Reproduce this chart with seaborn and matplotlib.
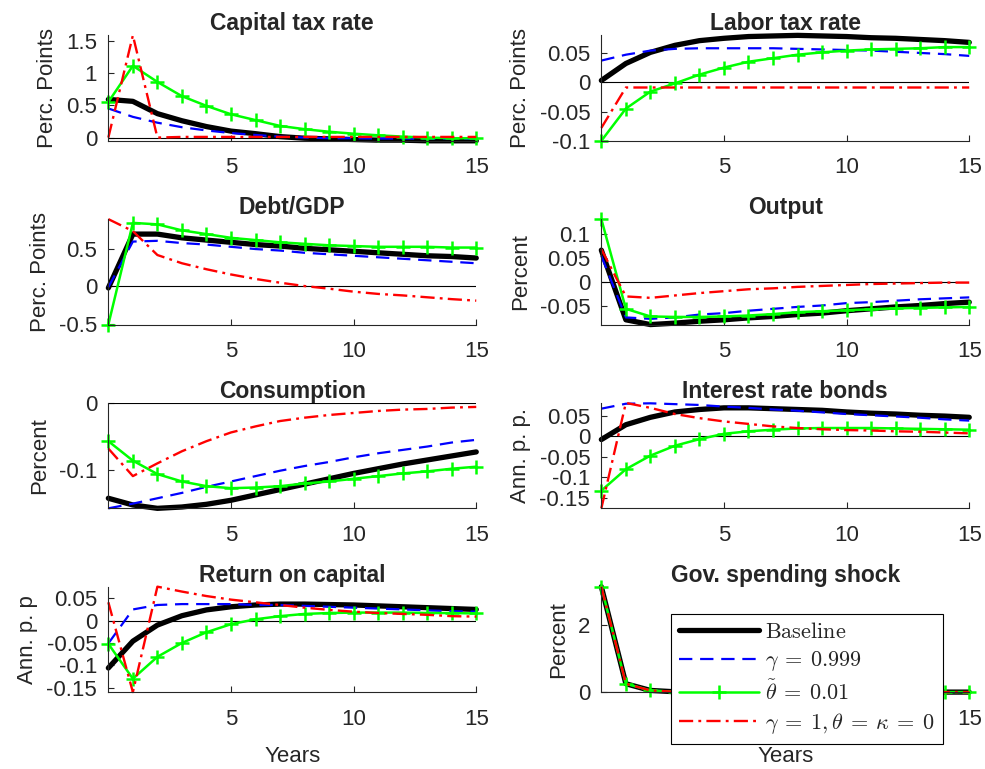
import matplotlib
matplotlib.use("Agg")
import matplotlib.pyplot as plt
import seaborn as sns
import numpy as np
from matplotlib.ticker import FormatStrFormatter

years = np.arange(16)

# series order in every panel: Baseline, gamma=0.999, theta~=0.01, gamma=1 theta=kappa=0
captax_base = [0.59, 0.56, 0.37, 0.26, 0.17, 0.10, 0.06, 0.015, -0.01, -0.02, -0.03, -0.04, -0.04, -0.05, -0.05, -0.05]
captax_g999 = [0.45, 0.32, 0.23, 0.16, 0.11, 0.07, 0.04, 0.015, 0.0, -0.01, -0.01, -0.015, -0.015, -0.02, -0.02, -0.02]
captax_theta = [0.55, 1.11, 0.86, 0.64, 0.49, 0.36, 0.27, 0.18, 0.13, 0.09, 0.06, 0.035, 0.015, 0.0, -0.01, -0.01]
captax_nofric = [0.0, 1.58, 0.0, 0.01, 0.01, 0.01, 0.01, 0.01, 0.01, 0.01, 0.01, 0.01, 0.01, 0.01, 0.01, 0.01]

labtax_base = [0.003, 0.032, 0.051, 0.063, 0.071, 0.075, 0.078, 0.079, 0.080, 0.079, 0.078, 0.076, 0.075, 0.073, 0.071, 0.068]
labtax_g999 = [0.037, 0.047, 0.054, 0.057, 0.058, 0.058, 0.058, 0.058, 0.057, 0.056, 0.055, 0.054, 0.052, 0.050, 0.048, 0.045]
labtax_theta = [-0.1, -0.045, -0.016, -0.002, 0.013, 0.025, 0.035, 0.041, 0.047, 0.051, 0.054, 0.056, 0.057, 0.058, 0.060, 0.060]
labtax_nofric = [-0.078, -0.009, -0.009, -0.009, -0.009, -0.009, -0.009, -0.009, -0.009, -0.009, -0.009, -0.009, -0.009, -0.009, -0.009, -0.009]

debt_base = [-0.02, 0.70, 0.70, 0.65, 0.62, 0.59, 0.56, 0.54, 0.51, 0.49, 0.47, 0.45, 0.43, 0.41, 0.40, 0.38]
debt_g999 = [-0.01, 0.60, 0.61, 0.58, 0.56, 0.53, 0.50, 0.48, 0.45, 0.43, 0.41, 0.39, 0.37, 0.35, 0.33, 0.31]
debt_theta = [-0.51, 0.85, 0.83, 0.75, 0.70, 0.65, 0.62, 0.59, 0.57, 0.55, 0.54, 0.53, 0.53, 0.53, 0.52, 0.52]
debt_nofric = [0.90, 0.74, 0.42, 0.31, 0.23, 0.16, 0.10, 0.05, 0.005, -0.03, -0.07, -0.10, -0.12, -0.145, -0.17, -0.19]

output_base = [0.067, -0.079, -0.089, -0.086, -0.082, -0.079, -0.075, -0.072, -0.068, -0.065, -0.060, -0.056, -0.052, -0.049, -0.045, -0.042]
output_g999 = [0.055, -0.074, -0.077, -0.074, -0.068, -0.065, -0.060, -0.056, -0.052, -0.049, -0.044, -0.042, -0.039, -0.036, -0.034, -0.032]
output_theta = [0.132, -0.056, -0.072, -0.073, -0.073, -0.072, -0.070, -0.067, -0.063, -0.061, -0.059, -0.057, -0.055, -0.054, -0.053, -0.052]
output_nofric = [0.069, -0.030, -0.033, -0.028, -0.023, -0.019, -0.015, -0.013, -0.010, -0.008, -0.006, -0.004, -0.003, -0.002, -0.001, -0.001]

cons_base = [-0.142, -0.152, -0.157, -0.155, -0.151, -0.145, -0.137, -0.129, -0.121, -0.113, -0.105, -0.098, -0.091, -0.085, -0.079, -0.073]
cons_g999 = [-0.157, -0.150, -0.142, -0.134, -0.125, -0.117, -0.109, -0.101, -0.094, -0.088, -0.081, -0.075, -0.070, -0.065, -0.059, -0.055]
cons_theta = [-0.057, -0.086, -0.106, -0.117, -0.124, -0.127, -0.126, -0.124, -0.120, -0.117, -0.113, -0.109, -0.105, -0.102, -0.098, -0.095]
cons_nofric = [-0.068, -0.109, -0.090, -0.072, -0.057, -0.044, -0.035, -0.027, -0.022, -0.018, -0.015, -0.012, -0.010, -0.009, -0.007, -0.006]

bonds_base = [-0.008, 0.028, 0.046, 0.059, 0.065, 0.069, 0.069, 0.067, 0.065, 0.063, 0.059, 0.056, 0.054, 0.051, 0.049, 0.046]
bonds_g999 = [0.067, 0.079, 0.080, 0.078, 0.076, 0.072, 0.069, 0.065, 0.062, 0.058, 0.054, 0.051, 0.048, 0.045, 0.041, 0.038]
bonds_theta = [-0.132, -0.080, -0.047, -0.023, -0.007, 0.006, 0.012, 0.016, 0.019, 0.020, 0.020, 0.020, 0.019, 0.018, 0.017, 0.016]
bonds_nofric = [-0.175, 0.081, 0.069, 0.054, 0.044, 0.036, 0.030, 0.024, 0.020, 0.017, 0.015, 0.014, 0.012, 0.011, 0.009, 0.007]

rk_base = [-0.106, -0.046, -0.010, 0.011, 0.024, 0.031, 0.035, 0.037, 0.037, 0.036, 0.035, 0.033, 0.031, 0.029, 0.027, 0.025]
rk_g999 = [-0.051, 0.025, 0.035, 0.037, 0.037, 0.037, 0.035, 0.035, 0.033, 0.031, 0.029, 0.027, 0.025, 0.023, 0.021, 0.020]
rk_theta = [-0.052, -0.130, -0.081, -0.050, -0.026, -0.008, 0.003, 0.010, 0.015, 0.017, 0.018, 0.018, 0.018, 0.017, 0.017, 0.016]
rk_nofric = [0.041, -0.160, 0.076, 0.065, 0.055, 0.047, 0.041, 0.035, 0.029, 0.024, 0.020, 0.017, 0.015, 0.013, 0.010, 0.009]

gov_shock = [3.15, 0.25, 0.05, 0.01, 0.0, 0.0, 0.0, 0.0, 0.0, 0.0, 0.0, 0.0, 0.0, 0.0, 0.0, 0.0]

titles = ["Capital tax rate", "Labor tax rate", "Debt/GDP", "Output",
          "Consumption", "Interest rate bonds", "Return on capital", "Gov. spending shock"]
ylabels = ["Perc. Points", "Perc. Points", "Perc. Points", "Percent",
           "Percent", "Ann. p. p.", "Ann. p. p", "Percent"]
yticks = [[0, 0.5, 1, 1.5], [-0.1, -0.05, 0, 0.05], [-0.5, 0, 0.5], [-0.05, 0, 0.05, 0.1],
          [-0.1, 0], [-0.15, -0.1, -0.05, 0, 0.05], [-0.15, -0.1, -0.05, 0, 0.05], [0, 2]]
xticks = [5, 10, 15]
labels = ["$\\mathrm{Baseline}$", "$\\gamma\\:=\\:0.999$", "$\\tilde{\\theta}\\:=\\:0.01$",
          "$\\gamma\\:=\\:1,\\theta\\:=\\:\\kappa\\:=\\:0$"]

panels = [
    [captax_base, captax_g999, captax_theta, captax_nofric],
    [labtax_base, labtax_g999, labtax_theta, labtax_nofric],
    [debt_base, debt_g999, debt_theta, debt_nofric],
    [output_base, output_g999, output_theta, output_nofric],
    [cons_base, cons_g999, cons_theta, cons_nofric],
    [bonds_base, bonds_g999, bonds_theta, bonds_nofric],
    [rk_base, rk_g999, rk_theta, rk_nofric],
    [gov_shock, gov_shock, gov_shock, gov_shock],
]

styles = [
    dict(color="black", linewidth=3.8, linestyle="-"),
    dict(color="#0000ff", linewidth=1.6, linestyle=(0, (6, 3.5))),
    dict(color="#00ff00", linewidth=1.8, linestyle="-", marker="+", markersize=10,
         markeredgewidth=1.8, markeredgecolor="#00ff00"),
    dict(color="#ff0000", linewidth=1.7, linestyle=(0, (6, 2.2, 1.2, 2.2))),
]

sns.set_theme(style="ticks")
plt.rcParams["font.family"] = ["Liberation Sans", "DejaVu Sans"]
plt.rcParams["mathtext.fontset"] = "cm"
plt.rcParams["axes.unicode_minus"] = False

axc = "#262626"
fig, axes = plt.subplots(4, 2, figsize=(9.85, 7.69), dpi=100)
fig.subplots_adjust(left=0.110, right=0.984, bottom=0.100, top=0.954, wspace=0.34, hspace=0.743)

handles = []
for i, ax in enumerate(axes.flat):
    series = panels[i]
    ax.axhline(0, color="black", linewidth=0.8, zorder=1)
    for vals, st in zip(series, styles):
        sns.lineplot(x=years, y=vals, ax=ax, clip_on=False, **st)
        if i == 7:
            handles.append(ax.lines[-1])
    allv = np.concatenate([np.asarray(s, dtype=float) for s in series] + [[0.0]])
    ax.set_xlim(0, 15)
    ax.set_ylim(allv.min(), allv.max())
    ax.set_xticks(xticks)
    ax.set_yticks(yticks[i])
    ax.yaxis.set_major_formatter(FormatStrFormatter("%g"))
    ax.set_title(titles[i], fontsize=16.5, fontweight="bold", pad=3)
    ax.set_ylabel(ylabels[i], fontsize=16, color=axc, labelpad=6)
    if i >= 6:
        ax.set_xlabel("Years", fontsize=16, color=axc, labelpad=12)
    else:
        ax.set_xlabel("")
    ax.tick_params(direction="in", length=4, width=0.8, labelsize=16, colors=axc)
    ax.tick_params(axis="x", pad=12)
    ax.tick_params(axis="y", pad=8)
    for s in ["top", "right"]:
        ax.spines[s].set_visible(False)
    for s in ["left", "bottom"]:
        ax.spines[s].set_color(axc)
        ax.spines[s].set_linewidth(0.8)

leg = axes[3, 1].legend(handles, labels, loc="upper left",
                        bbox_to_anchor=(0.681, 0.2016, 0.276, 0.0),
                        bbox_transform=fig.transFigure, mode="expand",
                        fontsize=16, handlelength=3.6, handletextpad=0.3,
                        labelspacing=0.3, borderpad=0.35, borderaxespad=0.0,
                        numpoints=1, fancybox=False, framealpha=1, edgecolor="black")
leg.get_frame().set_linewidth(0.8)
leg.set_zorder(10)

fig.savefig("out.png", dpi=100)
